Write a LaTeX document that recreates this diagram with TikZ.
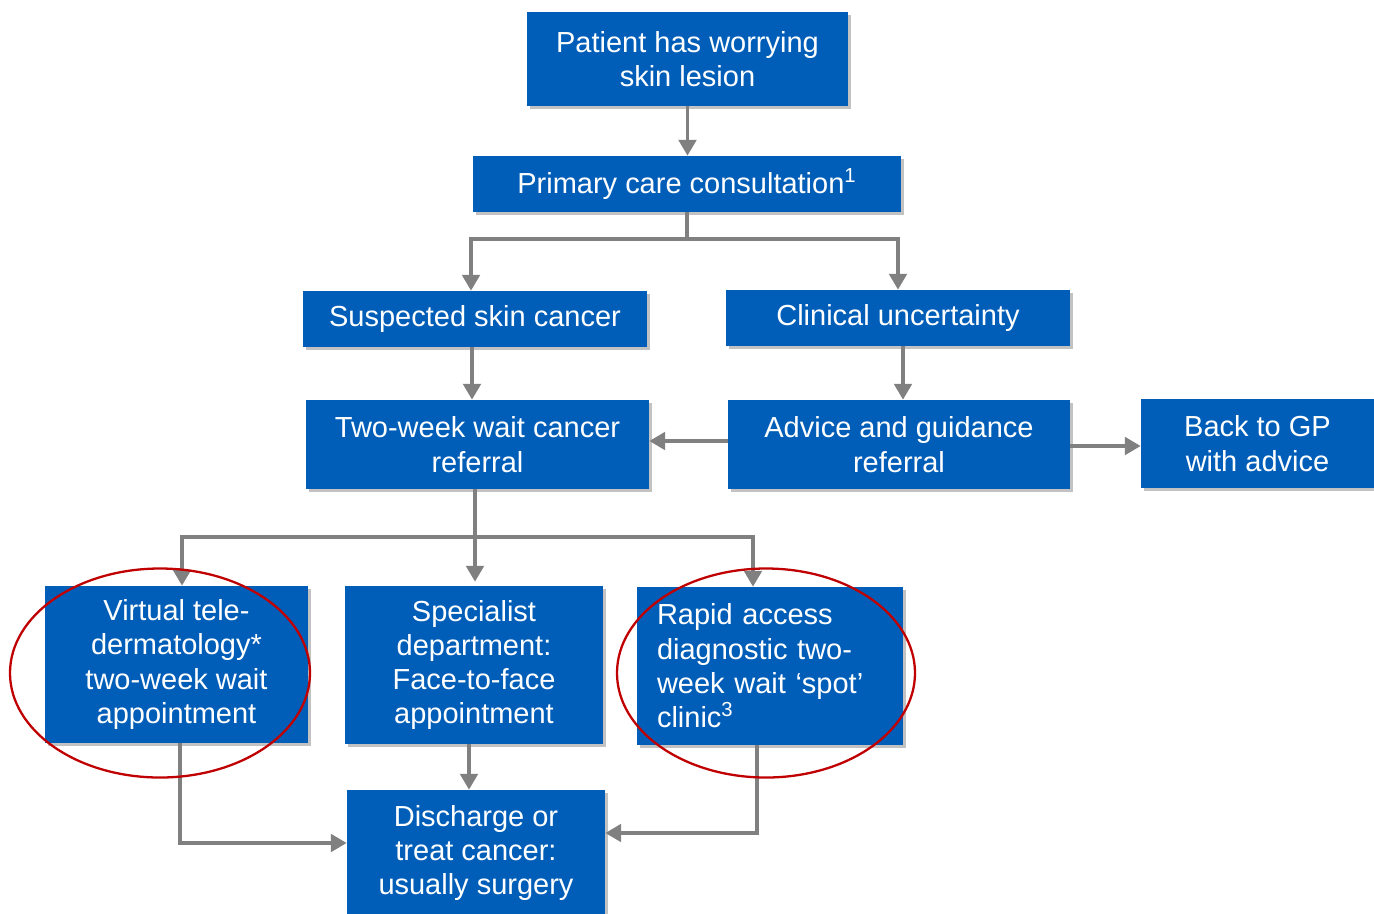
\documentclass[tikz,border=0pt]{standalone}
\usepackage{fontspec}
\setmainfont{Liberation Sans}
\usepackage{tikz}
\usetikzlibrary{positioning}
\usetikzlibrary{arrows.meta}
\usetikzlibrary{shadows}
\definecolor{nhsblue}{RGB}{0,94,184}
\definecolor{linkgray}{RGB}{128,128,128}
\definecolor{ringred}{RGB}{192,0,0}
\tikzset{
    flowbox/.style={ % Sets the properties for each box
        rectangle,
        fill=nhsblue,
        text=white,
        align=center,
        inner sep=0pt,
        font=\fontsize{16.5}{19.5}\selectfont,
        drop shadow={shadow xshift=1.8pt, shadow yshift=-1.8pt, fill=black!40, opacity=0.6}
    },
    link/.style={ % Grey connectors
        draw=linkgray,
        line width=1.9pt,
        -{Triangle[width=10pt,length=9pt]}
    },
    plain/.style={draw=linkgray, line width=1.9pt},
    ring/.style={draw=ringred, line width=1.3pt} % Red highlight
}
\begin{document}
\begin{tikzpicture}
            \useasboundingbox (0,0) rectangle (27.48,-18.26);
            \clip (0,0) rectangle (27.48,-18.26);

            \node[flowbox, minimum width=6.42cm, minimum height=1.88cm] (pat) at (13.75,-1.18) {Patient has worrying\\skin lesion};
            \node[flowbox, minimum width=8.56cm, minimum height=1.12cm] (prim) at (13.74,-3.68) {Primary care consultation\textsuperscript{1}};
            \node[flowbox, minimum width=6.88cm, minimum height=1.12cm] (susp) at (9.5,-6.38) {Suspected skin cancer};
            \node[flowbox, minimum width=6.88cm, minimum height=1.12cm] (clin) at (17.96,-6.36) {Clinical uncertainty};
            \node[flowbox, minimum width=6.86cm, minimum height=1.78cm] (twoweek) at (9.55,-8.89) {Two-week wait cancer\\referral};
            \node[flowbox, minimum width=6.84cm, minimum height=1.78cm] (advice) at (17.98,-8.89) {Advice and guidance\\referral};
            \node[flowbox, minimum width=4.66cm, minimum height=1.78cm] (back) at (25.15,-8.87) {Back to GP\\with advice};
            \node[flowbox, minimum width=5.26cm, minimum height=3.14cm] (virt) at (3.53,-13.29) {Virtual tele-\\dermatology*\\two-week wait\\appointment};
            \node[flowbox, minimum width=5.16cm, minimum height=3.16cm] (spec) at (9.48,-13.3) {Specialist\\department:\\Face-to-face\\appointment};
            \node[flowbox, minimum width=5.32cm, minimum height=3.16cm, text width=4.52cm, align=left] (rapid) at (15.4,-13.32) {Rapid access\\diagnostic two-\\week wait ‘spot’\\clinic\textsuperscript{3}};
            \node[flowbox, minimum width=5.16cm, minimum height=2.52cm] (disch) at (9.52,-17.06) {Discharge or\\treat cancer:\\usually surgery};

            \coordinate (split1) at (13.74,-4.78);
            \coordinate (split2) at (9.5,-10.74);

            \draw[link] (pat.south) -- (pat.south |- prim.north);
            \draw[plain] (prim.south) -- (split1);
            \draw[link] (split1) -| ([xshift=-0.08cm]susp.north);
            \draw[link] (split1) -| (clin.north);

            \draw[link] ([xshift=-0.06cm]susp.south) -- ([xshift=-0.06cm]susp.south |- twoweek.north);
            \draw[link] ([xshift=0.1cm]clin.south) -- ([xshift=0.1cm]clin.south |- advice.north);
            \draw[link] ([yshift=0.07cm]advice.west) -- ([yshift=0.07cm]advice.west -| twoweek.east);
            \draw[link] ([yshift=-0.03cm]advice.east) -- ([yshift=-0.03cm]advice.east -| back.west);

            \draw[plain] (twoweek.south -| split2) -- (split2);
            \draw[link] (split2) -| ([xshift=0.11cm]virt.north);
            \draw[link] (split2) -| ([xshift=-0.34cm]rapid.north);
            \draw[link] (split2) -- ([yshift=0.08cm]split2 |- spec.north);

            \draw[link] ([xshift=-0.1cm]spec.south) -- ([xshift=-0.1cm]spec.south |- disch.north);
            \draw[link] ([xshift=0.07cm]virt.south) |- ([yshift=0.2cm]disch.west);
            \draw[link] ([xshift=-0.26cm]rapid.south) |- ([yshift=0.4cm]disch.east);

            \draw[ring] (3.2,-13.46) ellipse (3.0 and 2.09);
            \draw[ring] (15.32,-13.46) ellipse (2.98 and 2.09);
        \end{tikzpicture}
\end{document}
